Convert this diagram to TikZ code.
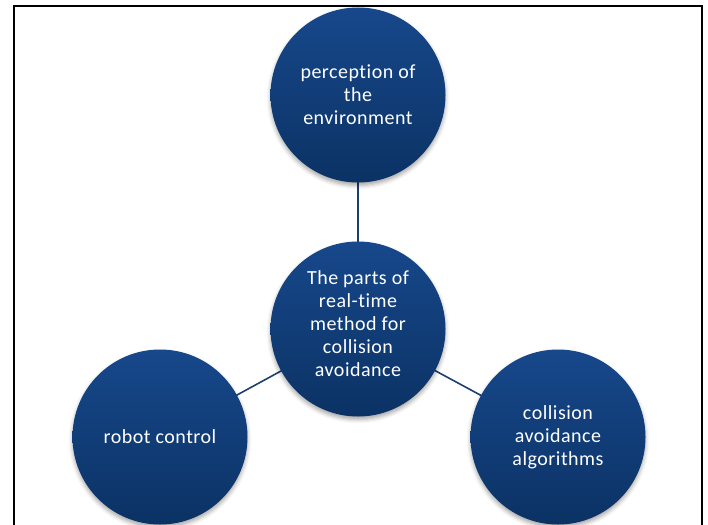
\documentclass[tikz,border=0pt]{standalone}
\usepackage{fontspec}
\setmainfont{Carlito}[LetterSpace=2.5, Ligatures={NoCommon}]
\usetikzlibrary{shadows.blur,backgrounds}

\definecolor{discTop}{HTML}{17488B}
\definecolor{discBottom}{HTML}{0B3264}
\definecolor{linkBlue}{HTML}{1C3F6E}

\tikzset{
  disc/.style={circle, minimum size=175pt, inner sep=0pt,
    top color=discTop, bottom color=discBottom,
    text=white, align=center,
    font=\fontsize{20}{23}\selectfont,
    blur shadow={shadow xshift=0pt, shadow yshift=-3pt,
      shadow blur radius=4pt, shadow opacity=35}},
  link/.style={draw=linkBlue, line width=1.6pt},
  frameline/.style={draw=black, line width=2pt}
}

\begin{document}
\begin{tikzpicture}[x=1pt, y=-1pt]
  \useasboundingbox (0,0) rectangle (708,524);
  \clip (0,0) rectangle (708,524);

  % outer frame, its lower edge runs off the page
  \draw[frameline] (14,6) rectangle (702,560);

  \node[disc] (env)  at (358,95)  {perception of\\the\\environment};
  \node[disc] (core) at (358,329) {The parts of\\real-time\\method for\\collision\\avoidance\\[-13pt]};
  \node[disc] (ctrl) at (160,437) {robot control};
  \node[disc] (algo) at (558,437) {collision\\avoidance\\algorithms};

  \begin{scope}[on background layer]
    \draw[link] (env.center) -- (core.center);
    \draw[link] (core.center) -- (ctrl.center);
    \draw[link] (core.center) -- (algo.center);
  \end{scope}
\end{tikzpicture}
\end{document}
